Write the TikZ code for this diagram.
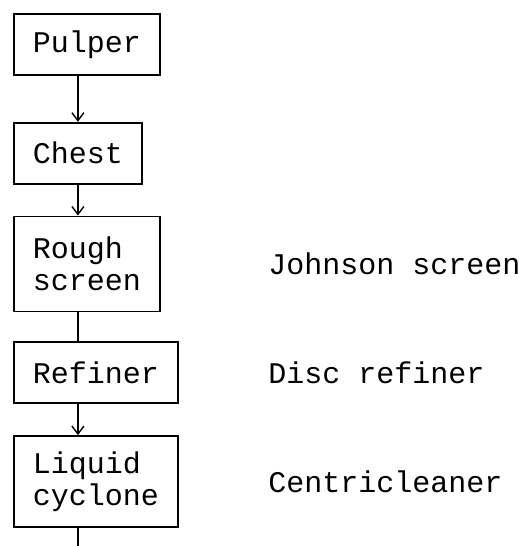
\documentclass[tikz,border=0pt]{standalone}
\usepackage{fontspec}
\setmonofont{Liberation Mono}
\usepackage{tikz}
\usetikzlibrary{positioning,arrows.meta}
\tikzset{
  unit/.style={draw, line width=0.9pt, font=\ttfamily\fontsize{15}{16}\selectfont, align=left, inner xsep=9.5pt, minimum height=30.5pt},
  tallunit/.style={unit, minimum height=47.5pt},
  note/.style={font=\ttfamily\fontsize{15}{16}\selectfont, anchor=west, inner sep=0pt},
  flow/.style={-{Straight Barb[length=4pt,width=6pt]}, line width=0.7pt},
  pipe/.style={line width=0.7pt},
}
\begin{document}
\begin{tikzpicture}
\useasboundingbox (0,0) rectangle (262.5pt,-273pt);
\node[unit, anchor=north west] (pulper) at (6.5pt,-6.5pt) {Pulper};
\node[unit, below=23pt of pulper.south west, anchor=north west] (chest) {Chest};
\node[tallunit, below=15.5pt of chest.south west, anchor=north west] (rough) {Rough\\screen};
\node[unit, below=14.5pt of rough.south west, anchor=north west] (refiner) {Refiner};
\node[tallunit, minimum height=45.5pt, below=15.5pt of refiner.south west, anchor=north west] (cyclone) {Liquid\\cyclone};
\coordinate (labx) at (134pt,0);
\coordinate (outlet) at (chest.south |- 0,-273pt);
\node[note] (johnson) at (labx |- rough) {Johnson screen};
\node[note] (disc) at (labx |- refiner) {Disc refiner};
\node[note] (centri) at (labx |- cyclone) {Centricleaner};
\draw[flow] (pulper.south -| chest.north) -- (chest.north);
\draw[flow] (chest.south) -- (rough.north -| chest.south);
\draw[pipe] (rough.south -| chest.south) -- (refiner.north -| chest.south);
\draw[flow] (refiner.south -| chest.south) -- (cyclone.north -| chest.south);
\draw[pipe] (cyclone.south -| chest.south) -- (outlet);
\end{tikzpicture}
\end{document}
